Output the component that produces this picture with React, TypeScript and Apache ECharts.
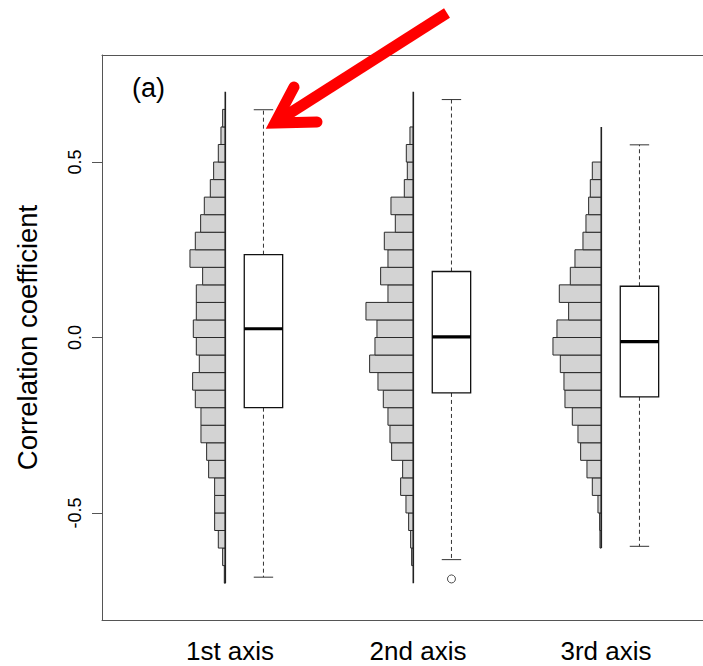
import React, { useEffect, useRef } from "react";
import * as echarts from "echarts";

// ---------- data ----------
const categories = ["1st axis", "2nd axis", "3rd axis"];
const yTickValues = [-0.5, 0, 0.5];

// histogram bin edges (correlation coefficient)
const binEdges = [
  -0.7, -0.65, -0.6, -0.55, -0.5, -0.45, -0.4, -0.35, -0.3, -0.25, -0.2, -0.15, -0.1, -0.05,
  0, 0.05, 0.1, 0.15, 0.2, 0.25, 0.3, 0.35, 0.4, 0.45, 0.5, 0.55, 0.6, 0.65, 0.7,
];

// frequencies per bin, from the lowest bin upward (relative units)
const hist1 = [3, 8, 21, 32, 32, 32, 50, 56, 73, 73, 90, 98, 78, 87, 96, 87, 87, 68, 106, 90, 74, 63, 45, 35, 21, 13, 8, 0];
const hist2 = [0, 5, 8, 14, 22, 38, 32, 65, 70, 76, 90, 106, 131, 115, 109, 142, 76, 98, 76, 87, 54, 67, 27, 18, 21, 10, 0, 0];
const hist3 = [0, 0, 4, 5, 10, 27, 43, 62, 70, 87, 109, 112, 123, 145, 133, 98, 126, 93, 79, 55, 46, 38, 33, 27, 0, 0, 0, 0];

// extent of each histogram's axis line
const histLow = [-0.7, -0.7, -0.6];
const histHigh = [0.7, 0.7, 0.6];

// boxplot statistics
const boxMin = [-0.683, -0.633, -0.595];
const boxQ1 = [-0.2, -0.158, -0.169];
const boxMedian = [0.025, 0.002, -0.012];
const boxQ3 = [0.236, 0.188, 0.146];
const boxMax = [0.649, 0.678, 0.549];

// outliers
const outlierGroup = [2];
const outlierValue = [-0.688];

// ---------- layout (not data) ----------
const FONT = "'Liberation Sans', Arial, Helvetica, sans-serif";
const PX_PER_UNIT = 188;
const GRID_LEFT = 102;
const X_MIN = 1 - (225.3 - GRID_LEFT) / PX_PER_UNIT;
const GRID_W = 703 - GRID_LEFT;
const X_MAX = X_MIN + GRID_W / PX_PER_UNIT;
const BOX_OFFSET = 0.203;
const LABEL_OFFSET = 0.025;
const HIST_UNIT = 1 / (3 * PX_PER_UNIT); // x-units per frequency unit
const BOX_HALF = 19.2;
const CAP_HALF = 9.7;

const hists = [hist1, hist2, hist3];

function buildOption(): any {
  const histData: number[][] = [];
  hists.forEach((h, g) => {
    h.forEach((c, j) => {
      if (c > 0) histData.push([g + 1, binEdges[j], binEdges[j + 1], c]);
    });
  });
  const baseData = categories.map((_, g) => [g + 1, histLow[g], histHigh[g]]);
  const boxData = categories.map((_, g) => [
    g + 1 + BOX_OFFSET,
    boxMin[g],
    boxQ1[g],
    boxMedian[g],
    boxQ3[g],
    boxMax[g],
  ]);
  const outData = outlierGroup.map((g, i) => [g + BOX_OFFSET, outlierValue[i]]);
  const frameLine = { show: true, onZero: false, lineStyle: { color: "#555", width: 1 } };

  return {
    animation: false,
    backgroundColor: "#ffffff",
    grid: {
      left: GRID_LEFT,
      top: 55,
      width: GRID_W,
      height: 565,
      show: false,
    },
    xAxis: [
      {
        type: "value",
        min: X_MIN,
        max: X_MAX,
        position: "bottom",
        axisLine: frameLine,
        axisTick: { show: false },
        splitLine: { show: false },
        axisLabel: {
          customValues: categories.map((_, i) => i + 1 + LABEL_OFFSET),
          formatter: (v: number) => categories[Math.round(v) - 1] ?? "",
          fontSize: 26,
          lineHeight: 26,
          fontFamily: FONT,
          color: "#000",
          margin: 18,
        },
      },
      {
        type: "value",
        min: X_MIN,
        max: X_MAX,
        position: "top",
        axisLine: frameLine,
        axisTick: { show: false },
        axisLabel: { show: false },
        splitLine: { show: false },
      },
    ],
    yAxis: {
      type: "value",
      min: -0.805,
      max: 0.805,
      axisLine: frameLine,
      splitLine: { show: false },
      axisTick: {
        show: true,
        customValues: yTickValues,
        length: 10,
        lineStyle: { color: "#555", width: 1 },
      },
      axisLabel: {
        customValues: yTickValues,
        rotate: 90,
        formatter: (v: number) => v.toFixed(1),
        fontSize: 18,
        fontFamily: FONT,
        color: "#000",
        margin: 18,
      },
      name: "Correlation coefficient",
      nameLocation: "middle",
      nameGap: 61,
      nameTextStyle: { fontSize: 27.5, fontFamily: FONT, color: "#000" },
    },
    series: [
      {
        type: "custom",
        name: "hist",
        data: histData,
        encode: { x: [0], y: [1, 2] },
        z: 2,
        renderItem: (_p: any, api: any) => {
          const x = api.value(0);
          const lo = api.value(1);
          const hi = api.value(2);
          const c = api.value(3);
          const a = api.coord([x - c * HIST_UNIT, hi]);
          const b = api.coord([x, lo]);
          return {
            type: "rect",
            shape: { x: a[0], y: a[1], width: b[0] - a[0], height: b[1] - a[1] },
            style: { fill: "#d3d3d3", stroke: "#2a2a2a", lineWidth: 1 },
          };
        },
      },
      {
        type: "custom",
        name: "base",
        data: baseData,
        encode: { x: [0], y: [1, 2] },
        z: 3,
        renderItem: (_p: any, api: any) => {
          const a = api.coord([api.value(0), api.value(1)]);
          const b = api.coord([api.value(0), api.value(2)]);
          return {
            type: "line",
            shape: { x1: a[0], y1: a[1], x2: b[0], y2: b[1] },
            style: { stroke: "#222", lineWidth: 1.6 },
          };
        },
      },
      {
        type: "custom",
        name: "box",
        data: boxData,
        encode: { x: [0], y: [1, 2, 3, 4, 5] },
        z: 4,
        renderItem: (_p: any, api: any) => {
          const x = api.value(0);
          const pMin = api.coord([x, api.value(1)]);
          const pQ1 = api.coord([x, api.value(2)]);
          const pMed = api.coord([x, api.value(3)]);
          const pQ3 = api.coord([x, api.value(4)]);
          const pMax = api.coord([x, api.value(5)]);
          const cx = pMed[0];
          const dash = { stroke: "#333", lineWidth: 1, lineDash: [4, 3] };
          const solid = { stroke: "#333", lineWidth: 1 };
          return {
            type: "group",
            children: [
              { type: "line", shape: { x1: cx, y1: pQ3[1], x2: cx, y2: pMax[1] }, style: dash },
              { type: "line", shape: { x1: cx, y1: pQ1[1], x2: cx, y2: pMin[1] }, style: dash },
              { type: "line", shape: { x1: cx - CAP_HALF, y1: pMax[1], x2: cx + CAP_HALF, y2: pMax[1] }, style: solid },
              { type: "line", shape: { x1: cx - CAP_HALF, y1: pMin[1], x2: cx + CAP_HALF, y2: pMin[1] }, style: solid },
              {
                type: "rect",
                shape: { x: cx - BOX_HALF, y: pQ3[1], width: BOX_HALF * 2, height: pQ1[1] - pQ3[1] },
                style: { fill: "#fff", stroke: "#111", lineWidth: 1.3 },
              },
              {
                type: "line",
                shape: { x1: cx - BOX_HALF, y1: pMed[1], x2: cx + BOX_HALF, y2: pMed[1] },
                style: { stroke: "#000", lineWidth: 3.2 },
              },
            ],
          };
        },
      },
      {
        type: "scatter",
        name: "outlier",
        data: outData,
        symbol: "circle",
        symbolSize: 8,
        z: 5,
        itemStyle: { color: "#fff", borderColor: "#222", borderWidth: 1 },
      },
    ],
    graphic: [
      {
        type: "text",
        x: 132,
        y: 88,
        z: 10,
        style: {
          text: "(a)",
          fontSize: 27,
          fontFamily: FONT,
          fill: "#000",
          align: "left",
          verticalAlign: "middle",
          textAlign: "left",
          textVerticalAlign: "middle",
        },
      },
      {
        type: "line",
        z: 20,
        shape: { x1: 447, y1: 13, x2: 276, y2: 122 },
        style: { stroke: "#ff0000", lineWidth: 11, lineCap: "butt" },
      },
      {
        type: "polyline",
        z: 21,
        shape: { points: [[294, 87], [275, 123], [317, 122]] },
        style: { stroke: "#ff0000", lineWidth: 11, lineCap: "round", lineJoin: "miter", fill: null },
      },
    ],
  };
}

export default function App() {
  const ref = useRef<HTMLDivElement>(null);
  useEffect(() => {
    if (!ref.current) return;
    const chart = echarts.init(ref.current, null, { renderer: "svg" });
    chart.setOption(buildOption());
    return () => chart.dispose();
  }, []);
  return (
    <div
      ref={ref}
      style={{ position: "absolute", left: 0, top: 0, width: 703, height: 666, background: "#fff" }}
    />
  );
}
